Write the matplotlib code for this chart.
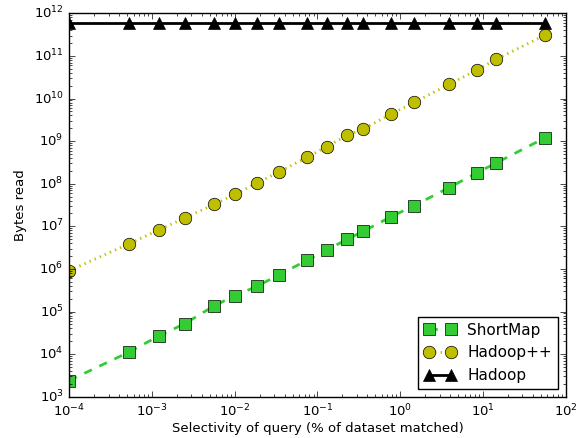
import matplotlib
matplotlib.use("Agg")
import matplotlib.pyplot as plt
from matplotlib.ticker import LogLocator

plt.style.use("classic")
fontsize = 9.5
markersize = 9

# selectivity (% of dataset matched)
selectivity = [1e-4, 5.3e-4, 1.21e-3, 2.5e-3, 5.6e-3, 1.0e-2, 1.86e-2, 3.43e-2,
               7.5e-2, 0.13, 0.228, 0.356, 0.776, 1.47, 3.9, 8.5, 14.4, 56.5]

shortmap_bytes = [2.4e3, 1.12e4, 2.66e4, 5.2e4, 1.35e5, 2.35e5, 3.9e5, 7.3e5,
                  1.59e6, 2.8e6, 4.95e6, 7.6e6, 1.68e7, 3.05e7, 8.1e7, 1.81e8,
                  3.06e8, 1.2e9]
hadooppp_bytes = [9.1e5, 3.9e6, 8.2e6, 1.57e7, 3.25e7, 5.6e7, 1.04e8, 1.9e8,
                  4.2e8, 7.4e8, 1.37e9, 1.92e9, 4.3e9, 8.1e9, 2.15e10, 4.7e10,
                  8.3e10, 3.1e11]
hadoop_bytes = [5.8e11] * len(selectivity)

plt.rcParams.update({'font.size': fontsize})
fig = plt.figure(figsize=(5.82, 4.38), dpi=100, facecolor='white')
ax = fig.add_axes([0.119, 0.0943, 0.853, 0.8753])

ax.plot(selectivity, shortmap_bytes, label='ShortMap', color='#33cc33',
        linestyle='--', linewidth=2, marker='s', markersize=markersize,
        markerfacecolor='#33cc33', markeredgecolor='black')
ax.plot(selectivity, hadooppp_bytes, label='Hadoop++', color='#bfbf00',
        linestyle=':', linewidth=2, marker='o', markersize=markersize,
        markerfacecolor='#bfbf00', markeredgecolor='black')
ax.plot(selectivity, hadoop_bytes, label='Hadoop', color='black',
        linestyle='-', linewidth=2, marker='^', markersize=markersize,
        markerfacecolor='black', markeredgecolor='black')

ax.set_xscale('log')
ax.set_yscale('log')
ax.set_xlim(1e-4, 1e2)
ax.set_ylim(1e3, 1e12)
ax.yaxis.set_major_locator(LogLocator(base=10, numticks=20))
ax.tick_params(labelsize=fontsize)
ax.set_xlabel("Selectivity of query (% of dataset matched)", fontsize=fontsize,
              labelpad=2)
ax.set_ylabel("Bytes read", fontsize=fontsize)

ax.legend(loc='lower right', numpoints=2, fontsize=11, frameon=True)
fig.savefig("out.png", dpi=100, facecolor='white')
